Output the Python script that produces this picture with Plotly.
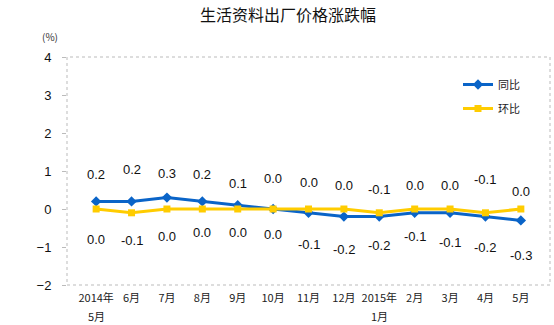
import plotly.graph_objects as go

categories = ["2014年<br>5月", "6月", "7月", "8月", "9月", "10月", "11月", "12月",
              "2015年<br>1月", "2月", "3月", "4月", "5月"]
yoy = [0.2, 0.2, 0.3, 0.2, 0.1, 0.0, -0.1, -0.2, -0.2, -0.1, -0.1, -0.2, -0.3]
mom = [0.0, -0.1, 0.0, 0.0, 0.0, 0.0, 0.0, 0.0, -0.1, 0.0, 0.0, -0.1, 0.0]
# pixel offsets of value labels (styling)
yoy_shift = [27, 32, 24, 27, 22, -25, -32, -33, -29, -24, -30, -31, -35]
mom_shift = [-30, -28, -27, -23, -23, 31, 27, 24, 23, 24, 24, 33, 18]

BLUE = "#0A64C8"
YELLOW = "#FFCC00"
TICKFONT = dict(family="Noto Sans CJK SC", size=11, color="#222")

fig = go.Figure()
fig.add_trace(go.Scatter(x=categories, y=yoy, name="同比", mode="lines+markers",
                         legendgroup="a",
                         line=dict(color=BLUE, width=3),
                         marker=dict(symbol="diamond", size=8, color=BLUE)))
fig.add_trace(go.Scatter(x=categories, y=mom, name="环比", mode="lines+markers",
                         legendgroup="b",
                         line=dict(color=YELLOW, width=3),
                         marker=dict(symbol="square", size=7, color=YELLOW)))

for c, v, s in zip(categories, yoy, yoy_shift):
    fig.add_annotation(x=c, y=v, text=f"{v:.1f}", showarrow=False, yshift=s,
                       font=dict(family="Arial, Liberation Sans", size=13, color="#111"))
for c, v, s in zip(categories, mom, mom_shift):
    fig.add_annotation(x=c, y=v, text=f"{v:.1f}", showarrow=False, yshift=s,
                       font=dict(family="Arial, Liberation Sans", size=13, color="#111"))

# second line of two-line category labels
for c in categories:
    parts = c.split("<br>")
    if len(parts) > 1:
        fig.add_annotation(x=c, xref="x", yref="paper", y=0, yshift=-31,
                           text=parts[1], showarrow=False,
                           xanchor="center", yanchor="middle", font=TICKFONT)

fig.add_annotation(xref="paper", yref="paper", x=(288 - 67) / 483, y=1 + (57 - 14) / 228,
                   text="生活资料出厂价格涨跌幅", showarrow=False,
                   xanchor="center", yanchor="middle",
                   font=dict(family="Noto Sans CJK SC", size=16, color="#111"))
fig.add_annotation(xref="paper", yref="paper", x=(50 - 67) / 483, y=1 + (57 - 37) / 228,
                   text="(%)", showarrow=False,
                   xanchor="center", yanchor="middle",
                   font=dict(family="Noto Sans CJK SC", size=10, color="#333"))

# dotted frame
fig.add_shape(type="rect", xref="paper", yref="paper", x0=0, x1=1, y0=0, y1=1,
              line=dict(color="#BBBBBB", width=1, dash="dot"), layer="below")

fig.update_layout(
    width=554, height=325,
    margin=dict(l=67, r=4, t=57, b=40),
    paper_bgcolor="white", plot_bgcolor="white",
    showlegend=True,
    legend=dict(x=(458 - 67) / 483, y=(285 - 70) / 228, xanchor="left", yanchor="top",
                bgcolor="rgba(0,0,0,0)", tracegroupgap=5,
                font=dict(family="Noto Sans CJK SC", size=11, color="#222"),
                itemwidth=30),
)
fig.update_xaxes(type="category", showgrid=False, zeroline=False, showline=False,
                 ticks="", tickangle=0, ticklabelstandoff=5,
                 tickvals=categories, ticktext=[c.split("<br>")[0] for c in categories],
                 tickfont=TICKFONT)
fig.update_yaxes(range=[-2, 4], dtick=1, showgrid=False, zeroline=False,
                 showline=False, ticks="outside", ticklen=4, tickcolor="#BBBBBB",
                 ticklabelstandoff=8,
                 tickfont=dict(family="Arial, Liberation Sans", size=13, color="#111"))

fig.write_html("out.html")
